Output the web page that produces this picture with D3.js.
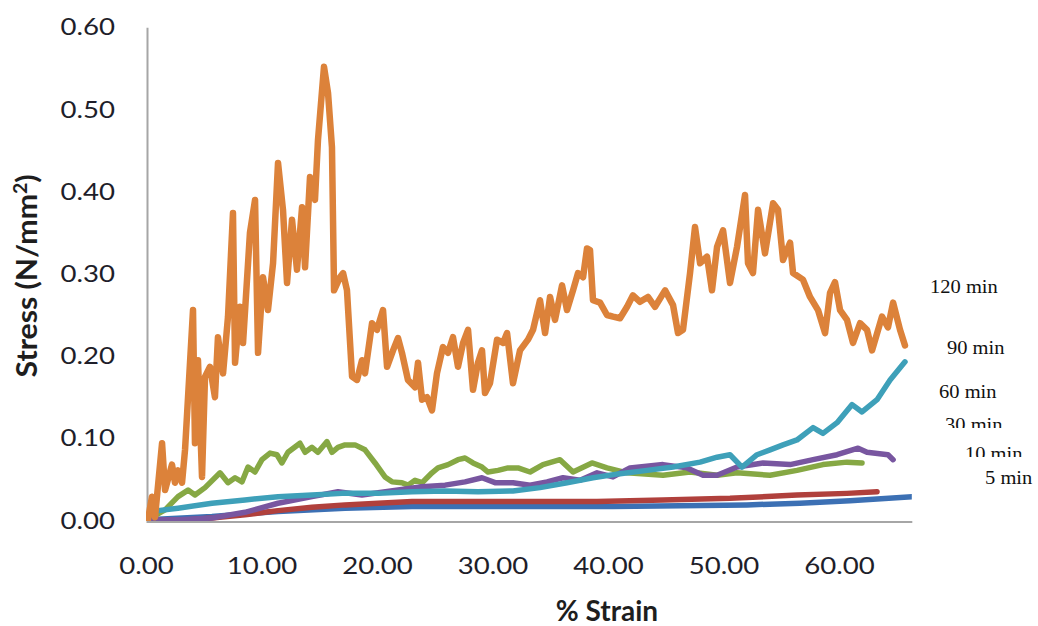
<!DOCTYPE html>
<html>
<head>
<meta charset="utf-8">
<title>Stress vs % Strain</title>
<script src="https://cdn.jsdelivr.net/npm/d3@7"></script>
<style>
  body { margin: 0; background: #fff; }
  svg { display: block; }
</style>
</head>
<body>
<svg id="chart" width="1038" height="626"></svg>
<script>
// series names in Excel order (first drawn first)
const seriesNames = ["5 min", "10 min", "30 min", "60 min", "90 min", "120 min"];
const seriesColors = ["#3c70b4", "#b0403c", "#86a844", "#7856a0", "#3ea0b9", "#dc823a"];

// [% strain, stress N/mm2]
const min5 = [[0.17,0.001],[5.71,0.005],[11.43,0.011],[17.23,0.015],[23.03,0.017],[28.92,0.017],[34.72,0.017],
  [40.43,0.017],[46.23,0.018],[52.03,0.019],[56.62,0.021],[60.95,0.024],[66.32,0.029]];

const min10 = [[0.17,0.001],[3.81,0.001],[5.71,0.003],[8.57,0.007],[11.43,0.012],[14.37,0.016],[17.23,0.019],
  [20.09,0.021],[23.03,0.023],[28.74,0.023],[33.68,0.023],[39.05,0.023],[44.76,0.025],[50.56,0.027],
  [56.36,0.031],[60.69,0.033],[63.29,0.035]];

const min30 = [[0.52,0.004],[1.65,0.013],[2.77,0.029],[3.64,0.037],[4.24,0.031],[5.11,0.040],[6.41,0.058],
  [7.10,0.046],[7.71,0.052],[8.31,0.047],[8.83,0.065],[9.44,0.059],[10.04,0.074],[10.74,0.082],[11.34,0.080],
  [11.77,0.070],[12.29,0.083],[13.33,0.094],[13.77,0.083],[14.37,0.089],[14.89,0.083],[15.67,0.096],
  [16.10,0.083],[16.62,0.089],[17.23,0.092],[18.10,0.092],[18.96,0.086],[19.83,0.070],[20.69,0.053],
  [21.30,0.047],[22.16,0.046],[22.68,0.043],[23.29,0.049],[23.90,0.046],[24.76,0.058],[25.28,0.064],
  [26.15,0.068],[27.01,0.074],[27.62,0.076],[28.31,0.070],[29.09,0.065],[29.61,0.059],[30.48,0.061],
  [31.34,0.064],[32.21,0.064],[33.25,0.059],[34.37,0.068],[35.84,0.074],[36.97,0.059],[38.61,0.070],
  [39.91,0.064],[41.65,0.058],[44.76,0.055],[47.10,0.059],[49.44,0.055],[51.17,0.058],[54.03,0.055],
  [56.36,0.061],[58.61,0.068],[60.69,0.071],[61.99,0.070]];

const min60 = [[0.17,0.001],[2.94,0.001],[5.71,0.003],[8.57,0.010],[11.43,0.021],[14.37,0.029],[16.62,0.035],
  [18.70,0.031],[21.82,0.037],[23.90,0.041],[25.89,0.043],[27.62,0.047],[29.09,0.052],[30.22,0.046],
  [31.77,0.046],[33.25,0.043],[34.72,0.047],[36.10,0.052],[37.58,0.049],[39.05,0.058],[40.43,0.053],
  [41.90,0.064],[44.76,0.068],[46.84,0.064],[48.23,0.055],[49.44,0.055],[51.17,0.065],[53.42,0.070],
  [55.76,0.068],[57.75,0.074],[59.83,0.080],[61.65,0.088],[62.42,0.083],[64.24,0.080],[64.68,0.074]];

const min90 = [[0.35,0.007],[1.04,0.012],[2.77,0.015],[5.71,0.021],[8.57,0.025],[11.43,0.029],[14.37,0.031],
  [16.97,0.033],[20.09,0.033],[23.03,0.035],[25.89,0.036],[28.74,0.035],[31.77,0.036],[34.11,0.040],
  [36.45,0.046],[38.70,0.052],[41.04,0.057],[43.38,0.061],[45.63,0.065],[47.97,0.071],[49.44,0.077],
  [50.56,0.080],[51.60,0.065],[52.90,0.080],[54.03,0.086],[55.15,0.092],[56.36,0.098],[57.75,0.113],
  [58.61,0.106],[59.83,0.119],[61.13,0.141],[61.99,0.132],[63.29,0.147],[64.42,0.171],[65.71,0.193]];

const min120 = [[0.17,0.001],[0.52,0.029],[0.78,0.004],[1.39,0.094],[1.65,0.037],[2.25,0.068],[2.51,0.046],
  [2.77,0.061],[3.12,0.046],[3.38,0.086],[4.07,0.256],[4.24,0.094],[4.50,0.195],[4.85,0.053],[5.11,0.175],
  [5.54,0.187],[5.97,0.150],[6.23,0.223],[6.67,0.179],[7.10,0.248],[7.53,0.374],[7.71,0.192],[8.14,0.260],
  [8.40,0.216],[9.00,0.350],[9.44,0.390],[9.70,0.204],[10.13,0.296],[10.56,0.256],[11.00,0.313],
  [11.43,0.435],[11.86,0.378],[12.21,0.289],[12.64,0.366],[13.07,0.305],[13.51,0.381],[13.77,0.308],
  [14.20,0.418],[14.63,0.390],[14.89,0.463],[15.41,0.552],[15.76,0.520],[16.10,0.454],[16.28,0.280],
  [16.80,0.296],[17.06,0.301],[17.40,0.280],[17.84,0.175],[18.27,0.171],[18.70,0.195],[18.96,0.179],
  [19.57,0.240],[20.00,0.232],[20.52,0.256],[20.87,0.187],[21.39,0.207],[21.82,0.222],[22.16,0.204],
  [22.68,0.171],[23.29,0.162],[23.55,0.192],[23.90,0.147],[24.33,0.150],[24.76,0.134],[25.19,0.179],
  [25.71,0.211],[26.15,0.204],[26.58,0.223],[27.01,0.187],[27.45,0.216],[27.88,0.232],[28.31,0.159],
  [28.74,0.192],[29.09,0.207],[29.35,0.155],[29.78,0.167],[30.39,0.220],[30.91,0.216],[31.26,0.228],
  [31.77,0.167],[32.38,0.207],[33.07,0.220],[33.51,0.232],[34.11,0.268],[34.55,0.228],[34.98,0.272],
  [35.41,0.244],[36.02,0.286],[36.45,0.256],[36.97,0.280],[37.40,0.301],[37.84,0.296],[38.18,0.331],
  [38.44,0.329],[38.70,0.268],[39.31,0.265],[39.91,0.250],[40.43,0.248],[41.04,0.246],[41.65,0.260],
  [42.16,0.274],[42.77,0.266],[43.46,0.272],[44.07,0.260],[44.94,0.280],[45.63,0.262],[46.06,0.228],
  [46.49,0.232],[47.10,0.301],[47.53,0.357],[47.97,0.313],[48.57,0.321],[49.00,0.280],[49.44,0.333],
  [49.96,0.353],[50.56,0.289],[51.17,0.333],[51.86,0.396],[52.12,0.313],[52.55,0.301],[52.99,0.378],
  [53.59,0.325],[54.29,0.386],[54.72,0.378],[55.15,0.317],[55.76,0.338],[56.02,0.301],[56.88,0.293],
  [57.49,0.272],[58.18,0.256],[58.79,0.228],[59.22,0.277],[59.65,0.290],[60.09,0.256],[60.69,0.244],
  [61.21,0.216],[61.82,0.240],[62.42,0.232],[62.86,0.207],[63.72,0.248],[64.24,0.235],[64.68,0.265],
  [65.28,0.232],[65.71,0.213]];

const seriesData = [min5, min10, min30, min60, min90, min120];
const lineWidths = [5.5, 5.5, 5.5, 5.5, 5.5, 6.5];

const xTicks = [0, 10, 20, 30, 40, 50, 60];
const yTicks = [0, 0.1, 0.2, 0.3, 0.4, 0.5, 0.6];

// labels at the right, top to bottom, as placed in the picture
const labelNames = ["120 min", "90 min", "60 min", "30 min", "10 min", "5 min"];
const labelX = [930, 947, 939, 945, 965, 985];
const labelY = [293, 354, 398, 431, 460, 484];
const labelCut = [null, null, null, 428, 457, null]; // bottom edge hidden by the next box

const svg = d3.select("#chart");

const x = d3.scaleLinear().domain([0, 66.3]).range([146, 911.8]);
const y = d3.scaleLinear().domain([0, 0.6]).range([520.5, 27.3]);

svg.append("defs").append("clipPath").attr("id", "plotClip")
  .append("rect").attr("x", 146).attr("y", 0).attr("width", 911.8 - 146).attr("height", 521);

// axes
const yAxis = svg.append("g").attr("transform", "translate(147,0)")
  .call(d3.axisLeft(y).tickValues(yTicks).tickFormat(d3.format(".2f")).tickSize(0).tickSizeOuter(0));
const xAxis = svg.append("g").attr("transform", "translate(0,521.5)")
  .call(d3.axisBottom(x).tickValues(xTicks).tickFormat(d3.format(".2f")).tickSize(0).tickSizeOuter(0));

[yAxis, xAxis].forEach(a => {
  a.select(".domain").attr("stroke", "#a6a6a6").attr("stroke-width", 2);
  a.selectAll("text").attr("fill", "#1e1e2a")
    .style("font-family", "Lato, 'Open Sans', sans-serif").style("font-size", "24px");
});
yAxis.selectAll("text").attr("x", 0).attr("transform", "translate(-32,0) scale(1.15,1)");
xAxis.selectAll("text").attr("y", 35).attr("transform", "scale(1.15,1)");

// lines
const line = d3.line().x(d => x(d[0])).y(d => y(d[1]));
svg.append("g").attr("clip-path", "url(#plotClip)")
  .selectAll("path").data(seriesData).enter().append("path")
  .attr("d", line)
  .attr("fill", "none")
  .attr("stroke", (d, i) => seriesColors[i])
  .attr("stroke-width", (d, i) => lineWidths[i])
  .attr("stroke-linejoin", "round")
  .attr("stroke-linecap", "round");

// axis titles
svg.append("text")
  .attr("x", 607).attr("y", 621)
  .attr("text-anchor", "middle")
  .style("font-family", "Lato, 'Open Sans', sans-serif").style("font-size", "28px").style("font-weight", "bold")
  .attr("fill", "#1e1e1e")
  .text("% Strain");

const yTitle = svg.append("text")
  .attr("transform", "translate(37,276) rotate(-90) scale(1.08,1)")
  .attr("text-anchor", "middle")
  .style("font-family", "Lato, 'Open Sans', sans-serif").style("font-size", "28px").style("font-weight", "bold")
  .attr("fill", "#1e1e1e");
yTitle.append("tspan").text("Stress (N/mm");
yTitle.append("tspan").attr("dy", -10).style("font-size", "18px").text("2");
yTitle.append("tspan").attr("dy", 10).text(")");

// right-hand labels
const labels = svg.append("g");
labelNames.forEach((name, i) => {
  labels.append("text")
    .attr("x", labelX[i]).attr("y", labelY[i])
    .attr("transform", `translate(${labelX[i]},0) scale(1.08,1) translate(${-labelX[i]},0)`)
    .style("font-family", "'Liberation Serif', 'Times New Roman', serif").style("font-size", "19px")
    .attr("fill", "#111")
    .text(name);
  if (labelCut[i] !== null) {
    labels.append("rect").attr("x", labelX[i] - 3).attr("y", labelCut[i])
      .attr("width", 72).attr("height", labelY[i] + 6 - labelCut[i]).attr("fill", "#fff");
  }
});
</script>
</body>
</html>
